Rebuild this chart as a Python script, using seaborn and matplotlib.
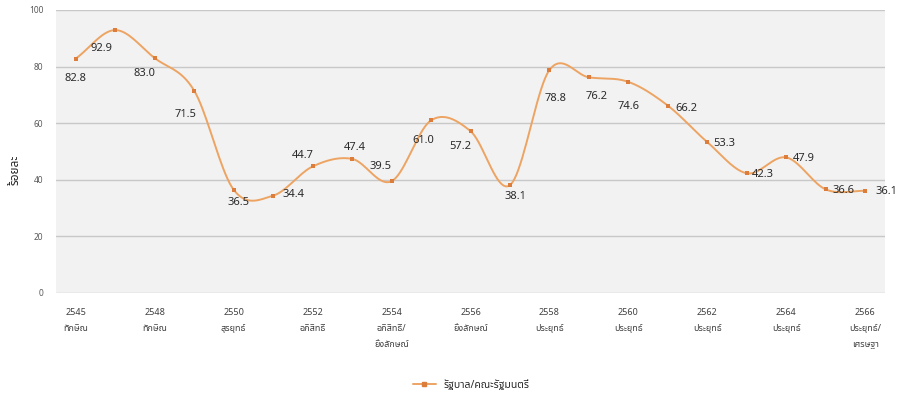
import numpy as np
import pandas as pd
import matplotlib
matplotlib.use("Agg")
import matplotlib.pyplot as plt
import seaborn as sns
from matplotlib.lines import Line2D

values = [82.8, 92.9, 83.0, 71.5, 36.5, 34.4, 44.7, 47.4, 39.5, 61.0, 57.2,
          38.1, 78.8, 76.2, 74.6, 66.2, 53.3, 42.3, 47.9, 36.6, 36.1]
tick_labels = ["2545\nทักษิณ", "2548\nทักษิณ", "2550\nสุรยุทธ์", "2552\nอภิสิทธิ์",
               "2554\nอภิสิทธิ์/\nยิ่งลักษณ์", "2556\nยิ่งลักษณ์", "2558\nประยุทธ์",
               "2560\nประยุทธ์", "2562\nประยุทธ์", "2564\nประยุทธ์", "2566\nประยุทธ์/\nเศรษฐา"]
series_name = "รัฐบาล/คณะรัฐมนตรี"
y_label = "ร้อยละ"

# label offsets in pixels (style only)
label_offsets = [(0, -20), (-14, -18), (-10, -15), (-9, -24), (5, -13), (20, 1),
                 (-10, 11), (3, 11), (-11, 15), (-8, -20), (-10, -15), (5, -11),
                 (6, -29), (8, -19), (0, -25), (18, -3), (17, -1), (16, -1),
                 (18, -1), (18, -1), (21, -1)]

sns.set_theme(style="white")
fonts = ["Noto Sans Thai", "Tahoma", "DejaVu Sans", "Noto Sans"]
plt.rcParams["font.family"] = fonts

df = pd.DataFrame({"x": np.arange(len(values)), "value": values})

fig = plt.figure(figsize=(8.98, 4.0), dpi=100)
ax = fig.add_axes([56 / 898, 0.2675, 829 / 898, 0.7075])
ax.set_facecolor("#f2f2f2")

line_color = "#EDA463"
marker_color = "#DD7D3C"

# smooth display curve (Catmull-Rom through the data points)
xs = df["x"].to_numpy(dtype=float)
ys = df["value"].to_numpy(dtype=float)
px, py = [], []
P = np.column_stack([xs, ys])
Pext = np.vstack([P[0] - (P[1] - P[0]), P, P[-1] + (P[-1] - P[-2])])
for i in range(1, len(Pext) - 2):
    p0, p1, p2, p3 = Pext[i - 1], Pext[i], Pext[i + 1], Pext[i + 2]
    t = np.linspace(0, 1, 20)[:, None]
    seg = 0.5 * ((2 * p1) + (-p0 + p2) * t + (2 * p0 - 5 * p1 + 4 * p2 - p3) * t ** 2
                 + (-p0 + 3 * p1 - 3 * p2 + p3) * t ** 3)
    px.extend(seg[:, 0]); py.extend(seg[:, 1])
ax.plot(px, py, color=line_color, lw=1.4, zorder=2)

sns.scatterplot(data=df, x="x", y="value", ax=ax, color=marker_color, marker="s",
                s=9, edgecolor=marker_color, linewidth=0, zorder=3, legend=False)

for (x, v), (dx, dy) in zip(zip(xs, ys), label_offsets):
    ax.annotate(f"{v:.1f}", (x, v), xytext=(dx, dy), textcoords="offset pixels",
                ha="center", va="center", fontsize=8, color="#2b2b2b",
                family=fonts, zorder=4, annotation_clip=False)

ax.set_ylim(0, 100)
ax.set_yticks(range(0, 101, 20))
ax.set_xlim(-0.5, len(values) - 0.5)
ax.set_xticks(np.arange(0, len(values), 2))
ax.set_xticklabels(tick_labels, fontsize=6.5, color="#404040", va="top", linespacing=2.0)
ax.tick_params(axis="y", labelsize=6, colors="#595959", length=0, pad=9)
ax.tick_params(axis="x", length=0, pad=11)
ax.grid(axis="y", color="#c8c8c8", lw=1)
ax.set_axisbelow(True)
for s in ax.spines.values():
    s.set_visible(False)
ax.set_xlabel("")
ax.set_ylabel(y_label, fontsize=8.5, color="#262626", fontweight="bold")
ax.yaxis.set_label_coords(-0.042, 0.435)

handle = Line2D([0], [0], color=line_color, lw=1.4, marker="s", markersize=3,
                markerfacecolor=marker_color, markeredgecolor=marker_color)
fig.legend([handle], [series_name], loc="center", bbox_to_anchor=(0.525, 0.037),
           frameon=False, handlelength=2.2, prop={"family": fonts, "size": 7.5})

fig.savefig("out.png", dpi=100)
